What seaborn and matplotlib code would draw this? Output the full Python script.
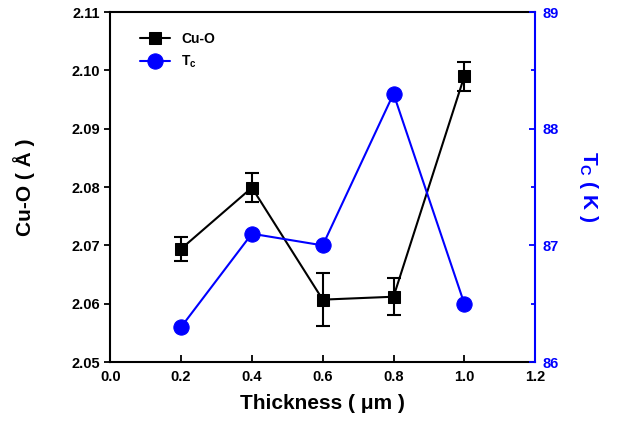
import numpy as np
import pandas as pd
import matplotlib
matplotlib.use('Agg')
import matplotlib.pyplot as plt
import seaborn as sns
from matplotlib.ticker import MultipleLocator

# data
thickness = [0.2, 0.4, 0.6, 0.8, 1.0]
cu_o = [2.0694, 2.0799, 2.0607, 2.0612, 2.0990]
cu_o_err = [0.0020, 0.0025, 0.0046, 0.0032, 0.0025]
tc = [86.3, 87.1, 87.0, 88.3, 86.5]

BLUE = '#0000ff'

sns.set_style('ticks')
plt.rcParams['font.family'] = ['Liberation Sans', 'DejaVu Sans']
plt.rcParams['mathtext.fontset'] = 'custom'
plt.rcParams['mathtext.rm'] = 'Liberation Sans:bold'
plt.rcParams['mathtext.bf'] = 'Liberation Sans:bold'
plt.rcParams['text.color'] = 'black'
plt.rcParams['axes.labelcolor'] = 'black'
plt.rcParams['xtick.color'] = 'black'
plt.rcParams['ytick.color'] = 'black'

df = pd.DataFrame({'thickness': thickness, 'cu_o': cu_o, 'tc': tc})

fig, ax = plt.subplots(figsize=(6.23, 4.30), dpi=100)
fig.subplots_adjust(left=0.177, right=0.859, top=0.972, bottom=0.158)
ax2 = ax.twinx()

sns.lineplot(data=df, x='thickness', y='cu_o', ax=ax, color='black', marker='s',
             markersize=9, markeredgecolor='black', linewidth=1.5, label='Cu-O', legend=False)
ax.errorbar(thickness, cu_o, yerr=cu_o_err, fmt='none', ecolor='black',
            elinewidth=1.5, capsize=5, capthick=1.5)
sns.lineplot(data=df, x='thickness', y='tc', ax=ax2, color=BLUE, marker='o',
             markersize=11, markeredgecolor=BLUE, linewidth=1.5, label='Tc', legend=False)

ax.set_xlim(0, 1.2)
ax.set_ylim(2.05, 2.11)
ax2.set_ylim(86, 89)
ax2.yaxis.set_major_locator(MultipleLocator(1))
ax2.yaxis.set_minor_locator(MultipleLocator(0.5))

xt = np.arange(0, 1.21, 0.2)
yt = np.arange(2.05, 2.111, 0.01)
ax.set_xticks(xt)
ax.set_xticklabels([f'{v:.1f}' for v in xt])
ax.set_yticks(yt)
ax.set_yticklabels([f'{v:.2f}' for v in yt])

ax.tick_params(axis='x', direction='in', length=5, width=1.3, labelsize=10.5, pad=6)
ax.tick_params(axis='y', direction='out', length=4, width=1.3, labelsize=10.5)
ax2.tick_params(axis='y', which='major', direction='in', length=4, width=1.3,
                labelsize=10.5, colors=BLUE, pad=5)
ax2.tick_params(axis='y', which='minor', direction='in', length=3, width=1.3, colors=BLUE)
for lab in ax.get_xticklabels() + ax.get_yticklabels() + ax2.get_yticklabels():
    lab.set_fontweight('bold')

for side in ['left', 'bottom', 'top']:
    ax.spines[side].set_linewidth(1.5)
    ax.spines[side].set_color('black')
ax.spines['right'].set_visible(False)
for side in ['left', 'bottom', 'top']:
    ax2.spines[side].set_visible(False)
ax2.spines['right'].set_color(BLUE)
ax2.spines['right'].set_linewidth(1.5)

ax.set_xlabel('Thickness ( μm )', fontsize=15, fontweight='bold', labelpad=7)
ax.set_ylabel('Cu-O ( Å )', fontsize=15, fontweight='bold', labelpad=26)
ax2.set_ylabel('T$_\\mathregular{C}$ ( K )', fontsize=15, fontweight='bold', color=BLUE,
               rotation=270, labelpad=30)

h1, _ = ax.get_legend_handles_labels()
h2, _ = ax2.get_legend_handles_labels()
leg = ax.legend(h1[:1] + h2[:1], ['Cu-O', 'T$_\\mathregular{c}$'], loc='upper left',
                bbox_to_anchor=(0.04, 0.98), frameon=False, handlelength=2.2,
                prop={'weight': 'bold', 'size': 10}, labelspacing=0.6)

fig.savefig('out.png', dpi=100)
